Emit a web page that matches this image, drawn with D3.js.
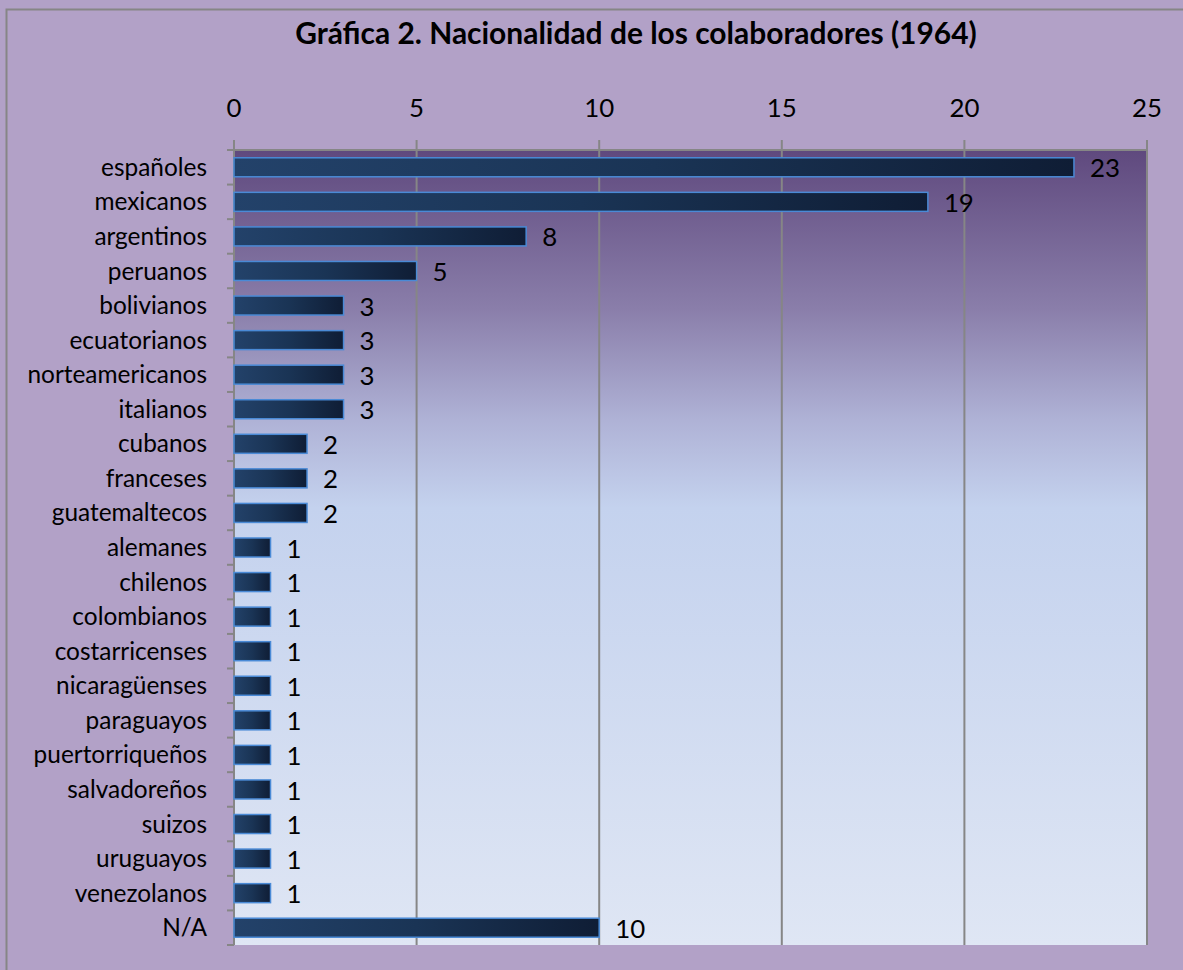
<!DOCTYPE html>
<html>
<head>
<meta charset="utf-8">
<script src="https://cdn.jsdelivr.net/npm/d3@7"></script>
<style>
  body { margin: 0; background: #b2a1c7; }
  svg { display: block; }
  text { font-family: Lato, "Open Sans", sans-serif; fill: #000; }
</style>
</head>
<body>
<div id="chart"></div>
<script>
const categories = ["españoles", "mexicanos", "argentinos", "peruanos", "bolivianos", "ecuatorianos",
  "norteamericanos", "italianos", "cubanos", "franceses", "guatemaltecos", "alemanes", "chilenos",
  "colombianos", "costarricenses", "nicaragüenses", "paraguayos", "puertorriqueños", "salvadoreños",
  "suizos", "uruguayos", "venezolanos", "N/A"];
const values = [23, 19, 8, 5, 3, 3, 3, 3, 2, 2, 2, 1, 1, 1, 1, 1, 1, 1, 1, 1, 1, 1, 10];
const xTicks = [0, 5, 10, 15, 20, 25];
const title = "Gráfica 2. Nacionalidad de los colaboradores (1964)";

const W = 1183, H = 970;
const margin = { top: 150, right: 36, bottom: 25, left: 234 };
const width = W - margin.left - margin.right,
      height = H - margin.top - margin.bottom;

// pick a font size so that a sample string gets the wanted width
function fitSize(str, weight, target) {
  const t = svg.append("text").style("font-size", "20px").style("font-weight", weight).text(str);
  const w = t.node().getComputedTextLength();
  t.remove();
  return 20 * target / w;
}

const svg = d3.select("#chart").append("svg")
  .attr("width", W).attr("height", H);

const titleSize = fitSize(title, "bold", 682);
const labelSize = fitSize("españoles", "normal", 106);
const tickSize = fitSize("25", "normal", 30);

const defs = svg.append("defs");
const bg = defs.append("linearGradient").attr("id", "plotBg")
  .attr("x1", 0).attr("y1", 0).attr("x2", 0).attr("y2", 1);
bg.append("stop").attr("offset", 0).attr("stop-color", "#5f497e");
bg.append("stop").attr("offset", 0.2).attr("stop-color", "#8a7eaa");
bg.append("stop").attr("offset", 0.34).attr("stop-color", "#afb2d6");
bg.append("stop").attr("offset", 0.45).attr("stop-color", "#c4d2ee");
bg.append("stop").attr("offset", 1).attr("stop-color", "#dfe6f4");

const barG = defs.append("linearGradient").attr("id", "barFill")
  .attr("x1", 0).attr("y1", 0).attr("x2", 1).attr("y2", 0);
barG.append("stop").attr("offset", 0).attr("stop-color", "#23426a");
barG.append("stop").attr("offset", 0.5).attr("stop-color", "#1a3455");
barG.append("stop").attr("offset", 1).attr("stop-color", "#0f1d35");

// outer chart border (the chart runs past the right and bottom edges)
svg.append("rect")
  .attr("x", 6.5).attr("y", 9.5).attr("width", W).attr("height", H)
  .attr("fill", "#b2a1c7").attr("stroke", "#868686").attr("stroke-width", 2);

svg.append("text")
  .attr("x", 636).attr("y", 44)
  .attr("text-anchor", "middle")
  .style("font-size", titleSize + "px").style("font-weight", "bold")
  .text(title);

const g = svg.append("g").attr("transform", `translate(${margin.left},${margin.top})`);

const x = d3.scaleLinear().domain([0, 25]).range([0, width]);
const y = d3.scaleBand().domain(categories).range([0, height]).paddingInner(0.45).paddingOuter(0.225);

g.append("rect").attr("width", width).attr("height", height).attr("fill", "url(#plotBg)");

// gridlines + top ticks
g.selectAll(".grid").data(xTicks).join("line")
  .attr("x1", d => x(d)).attr("x2", d => x(d))
  .attr("y1", -10).attr("y2", height)
  .attr("stroke", "#868686").attr("stroke-width", 2);

g.append("line").attr("x1", 0).attr("x2", width).attr("y1", 0).attr("y2", 0)
  .attr("stroke", "#868686").attr("stroke-width", 2);

g.selectAll(".xlab").data(xTicks).join("text")
  .attr("x", d => x(d)).attr("y", -33)
  .attr("text-anchor", "middle")
  .style("font-size", tickSize + "px")
  .text(d => d);

// left axis with tick marks at category boundaries
const step = y.step();
g.selectAll(".ytick").data(d3.range(categories.length + 1)).join("line")
  .attr("x1", -7).attr("x2", 0)
  .attr("y1", i => i * step).attr("y2", i => i * step)
  .attr("stroke", "#868686").attr("stroke-width", 2);

g.selectAll(".ylab").data(categories).join("text")
  .attr("x", -27).attr("y", d => y(d) + y.bandwidth() / 2)
  .attr("dy", "0.35em")
  .attr("text-anchor", "end")
  .style("font-size", labelSize + "px")
  .text(d => d);

g.selectAll(".bar").data(values).join("rect")
  .attr("x", 0)
  .attr("y", (d, i) => y(categories[i]))
  .attr("width", d => x(d))
  .attr("height", y.bandwidth())
  .attr("fill", "url(#barFill)")
  .attr("stroke", "#4a8ad6").attr("stroke-width", 1.5);

g.selectAll(".val").data(values).join("text")
  .attr("x", d => x(d) + 16)
  .attr("y", (d, i) => y(categories[i]) + y.bandwidth() / 2 + 1)
  .attr("dy", "0.35em")
  .style("font-size", tickSize + "px")
  .text(d => d);
</script>
</body>
</html>
